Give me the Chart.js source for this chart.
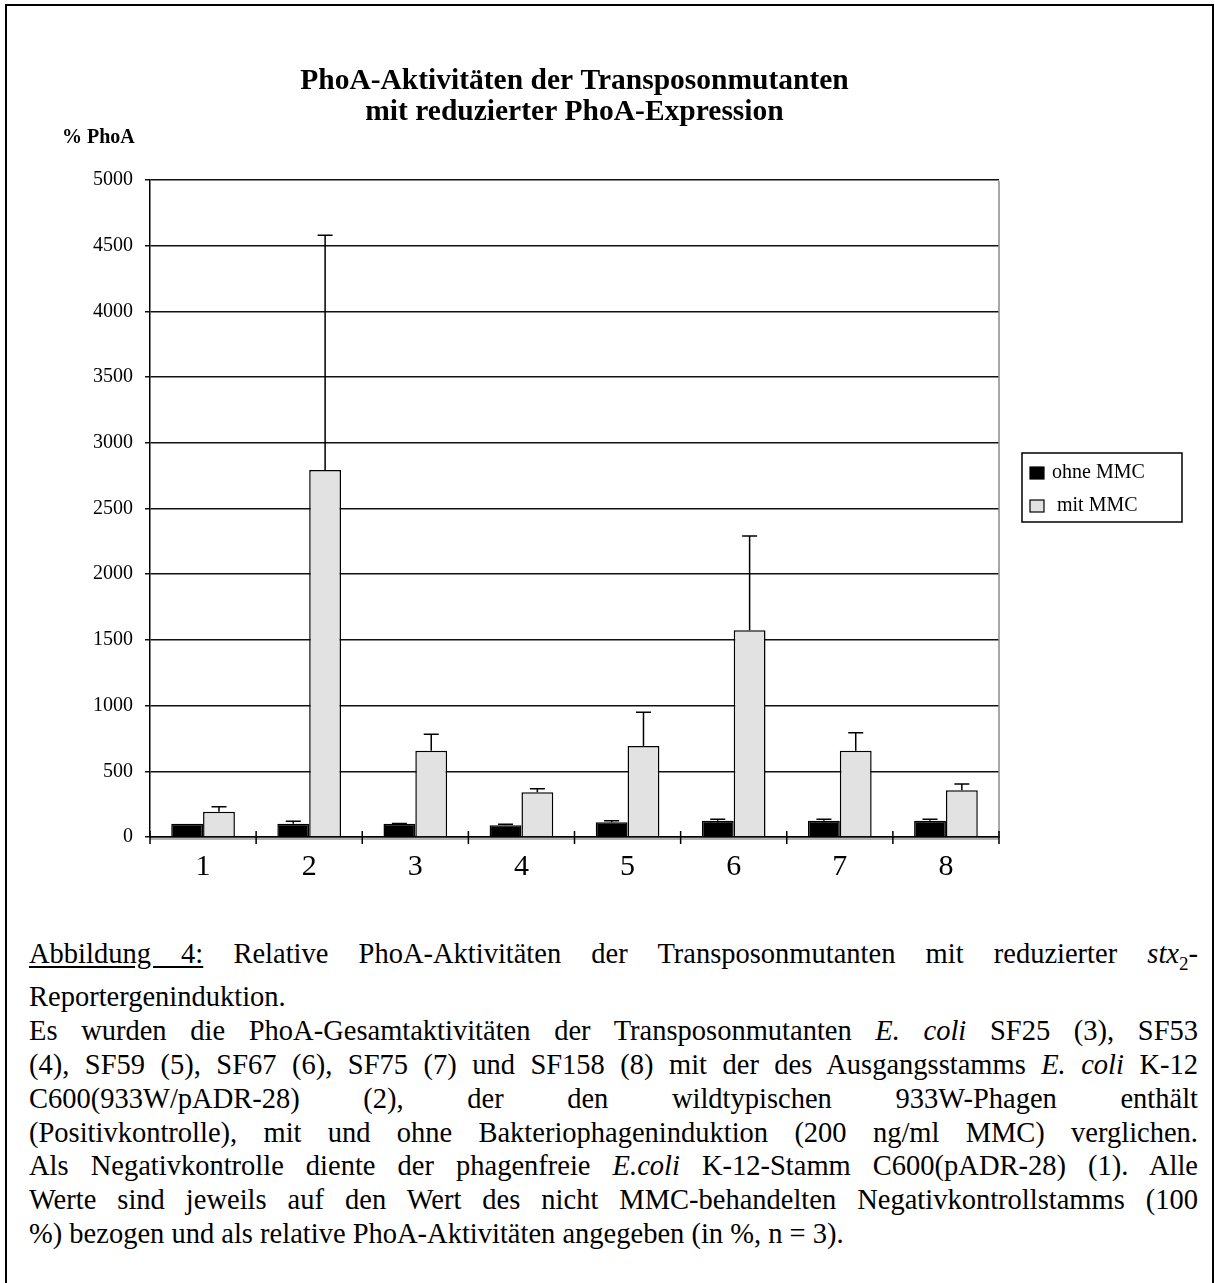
<!DOCTYPE html>
<html>
<head>
<meta charset="utf-8">
<script src="https://cdn.jsdelivr.net/npm/chart.js@4.4.1/dist/chart.umd.min.js"></script>
<style>
  html, body { margin: 0; padding: 0; background: #fff; }
  body { width: 1215px; height: 1283px; position: relative; overflow: hidden; font-family: "Liberation Serif", "Times New Roman", serif; }
  #frame { position: absolute; left: 5px; top: 4px; width: 1205px; height: 1300px; border-left: 2px solid #000; border-top: 2px solid #000; border-right: 2px solid #000; z-index: 5; pointer-events: none; }
  #wrap { position: absolute; left: 0; top: 0; width: 1215px; height: 900px; }
  #caption { position: absolute; left: 29px; top: 937px; width: 1169px; font-size: 28.5px; line-height: 33.8px; color: #000; }
  #caption .j { text-align: justify; text-align-last: justify; white-space: nowrap; }
  #caption .l { text-align: left; white-space: nowrap; }
  #caption u { text-decoration: underline; text-underline-offset: 3px; }
</style>
</head>
<body>
<div id="frame"></div>
<div id="wrap"><canvas id="c" width="1215" height="900"></canvas></div>
<div id="caption">
  <div class="j"><u>Abbildung 4:</u> Relative PhoA-Aktivitäten der Transposonmutanten mit reduzierter <i>stx</i><sub style="font-size:19px">2</sub>-</div>
  <div class="l">Reportergeninduktion.</div>
  <div class="j">Es wurden die PhoA-Gesamtaktivitäten der Transposonmutanten <i>E. coli</i> SF25 (3), SF53</div>
  <div class="j">(4), SF59 (5), SF67 (6), SF75 (7) und SF158 (8) mit der des Ausgangsstamms <i>E. coli</i> K-12</div>
  <div class="j">C600(933W/pADR-28) (2), der den wildtypischen 933W-Phagen enthält</div>
  <div class="j">(Positivkontrolle), mit und ohne Bakteriophageninduktion (200 ng/ml MMC) verglichen.</div>
  <div class="j">Als Negativkontrolle diente der phagenfreie <i>E.coli</i> K-12-Stamm C600(pADR-28) (1). Alle</div>
  <div class="j">Werte sind jeweils auf den Wert des nicht MMC-behandelten Negativkontrollstamms (100</div>
  <div class="l">%) bezogen und als relative PhoA-Aktivitäten angegeben (in %, n = 3).</div>
</div>
<script>
// ---- data ----
const categories = ['1', '2', '3', '4', '5', '6', '7', '8'];
const seriesNames = ['ohne MMC', 'mit MMC'];
const ohneMMC = [100, 100, 100, 89, 112, 124, 124, 124];
const ohneMMCErr = [0, 19, 2, 8, 12, 11, 11, 11];
const mitMMC = [192, 2793, 657, 340, 692, 1573, 657, 355];
const mitMMCErr = [38, 1786, 125, 28, 257, 717, 137, 48];
const titleLines = ['PhoA-Aktivitäten der Transposonmutanten', 'mit reduzierter PhoA-Expression'];
const yAxisLabel = '% PhoA';
const yMin = 0, yMax = 5000, yStep = 500;

const SERIF = '"Liberation Serif", "Times New Roman", serif';
const errors = [ohneMMCErr, mitMMCErr];

const decorPlugin = {
  id: 'decor',
  afterDatasetsDraw(chart) {
    const ctx = chart.ctx;
    const y = chart.scales.y;
    ctx.save();
    ctx.strokeStyle = '#000';
    ctx.lineWidth = 1.5;
    chart.data.datasets.forEach((ds, di) => {
      const meta = chart.getDatasetMeta(di);
      meta.data.forEach((el, i) => {
        const err = errors[di][i];
        if (!err) return;
        const top = y.getPixelForValue(ds.data[i] + err);
        ctx.beginPath();
        ctx.moveTo(el.x, el.y);
        ctx.lineTo(el.x, top);
        ctx.moveTo(el.x - 7.5, top);
        ctx.lineTo(el.x + 7.5, top);
        ctx.stroke();
      });
    });
    ctx.restore();
  },
  afterDraw(chart) {
    const ctx = chart.ctx;
    const a = chart.chartArea;
    const x = chart.scales.x;
    ctx.save();
    // right plot border (grey)
    ctx.strokeStyle = '#8a8a8a';
    ctx.lineWidth = 1.5;
    ctx.beginPath();
    ctx.moveTo(a.right, a.top + 1);
    ctx.lineTo(a.right, a.bottom);
    ctx.stroke();
    // grey shadow under x axis
    ctx.strokeStyle = '#9a9a9a';
    ctx.beginPath();
    ctx.moveTo(a.left, a.bottom + 2);
    ctx.lineTo(a.right, a.bottom + 2);
    ctx.stroke();
    // x-axis crossing ticks at category boundaries
    ctx.strokeStyle = '#000';
    ctx.lineWidth = 1.5;
    const n = categories.length;
    const step = (a.right - a.left) / n;
    for (let i = 0; i <= n; i++) {
      const px = i < n ? x.getPixelForValue(i) - step / 2 : x.getPixelForValue(n - 1) + step / 2;
      ctx.beginPath();
      ctx.moveTo(px, a.bottom - 6);
      ctx.lineTo(px, a.bottom + 7);
      ctx.stroke();
    }
    // title
    ctx.fillStyle = '#000';
    ctx.textAlign = 'center';
    ctx.textBaseline = 'alphabetic';
    ctx.font = 'bold 29.5px ' + SERIF;
    const cx = (a.left + a.right) / 2;
    ctx.fillText(titleLines[0], cx, 89);
    ctx.fillText(titleLines[1], cx, 120);
    // y axis label
    ctx.textAlign = 'left';
    ctx.font = 'bold 20px ' + SERIF;
    ctx.fillText(yAxisLabel, 62, 143);
    // legend
    const lx = 1022, ly = 453, lw = 160, lh = 69;
    ctx.strokeStyle = '#000';
    ctx.lineWidth = 1.5;
    ctx.strokeRect(lx, ly, lw, lh);
    ctx.font = '20px ' + SERIF;
    ctx.textBaseline = 'middle';
    const rows = [{ y: 473, tx: 1052 }, { y: 506, tx: 1057 }];
    chart.data.datasets.forEach((ds, di) => {
      const r = rows[di];
      ctx.fillStyle = ds.backgroundColor;
      ctx.fillRect(1030, r.y - 6, 14, 12);
      ctx.strokeStyle = '#000';
      ctx.lineWidth = 1.2;
      ctx.strokeRect(1030, r.y - 6, 14, 12);
      ctx.fillStyle = '#000';
      ctx.fillText(ds.label, r.tx, r.y);
    });
    ctx.restore();
  }
};

new Chart(document.getElementById('c'), {
  type: 'bar',
  data: {
    labels: categories,
    datasets: [
      { label: seriesNames[0], data: ohneMMC, backgroundColor: '#000000', borderColor: '#000', borderWidth: 1.5 },
      { label: seriesNames[1], data: mitMMC, backgroundColor: '#e2e2e2', borderColor: '#000', borderWidth: 1.5 }
    ]
  },
  options: {
    responsive: false,
    animation: false,
    devicePixelRatio: 1,
    layout: { padding: { top: 180, right: 216, bottom: 0, left: 0 } },
    datasets: { bar: { categoryPercentage: 0.6, barPercentage: 1.0 } },
    plugins: { legend: { display: false }, title: { display: false }, tooltip: { enabled: false } },
    scales: {
      x: {
        offset: true,
        grid: { display: false, drawTicks: false },
        border: { display: true, color: '#000', width: 1.5 },
        ticks: { color: '#000', font: { family: SERIF, size: 30 }, padding: 12 },
        afterFit(s) { s.height = 63; }
      },
      y: {
        min: yMin, max: yMax,
        ticks: { stepSize: yStep, color: '#000', font: { family: SERIF, size: 20 }, padding: 12, callback: (v) => String(v) },
        grid: { color: '#111', lineWidth: 1.5, tickLength: 5, drawTicks: true },
        border: { display: true, color: '#000', width: 1.5 },
        afterFit(s) { s.width = 150; }
      }
    }
  },
  plugins: [decorPlugin]
});
</script>
</body>
</html>
